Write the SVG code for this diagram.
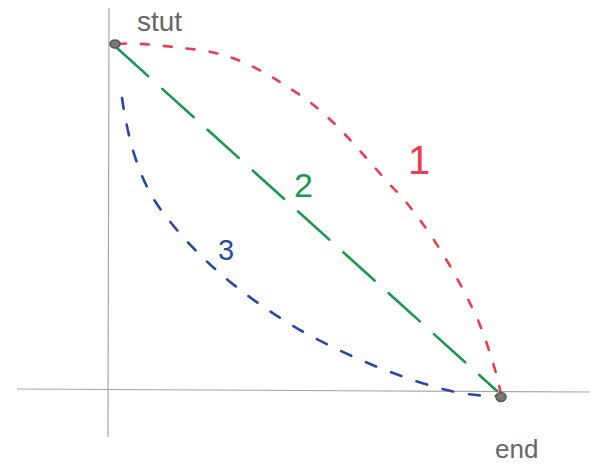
<svg xmlns="http://www.w3.org/2000/svg" width="600" height="466" viewBox="0 0 600 466">
<style>
.axis{stroke:#a8a8a8;stroke-width:1.2;fill:none}
.c{fill:none;stroke-linecap:round;stroke-width:2.6}
.red{stroke:#ee3b50;stroke-dasharray:8 15}
.green{stroke:#179a50;stroke-dasharray:42 19}
.blue{stroke:#2a48a6;stroke-dasharray:11 16}
.pt{fill:#777;stroke:#555;stroke-width:1.5}
.lbl{font-family:"Liberation Sans","DejaVu Sans",sans-serif}
</style>
<rect width="600" height="466" fill="#fff"/>
<g id="axes">
<line class="axis" x1="109" y1="8" x2="108" y2="437"/>
<line class="axis" x1="17" y1="389" x2="590" y2="392"/>
</g>
<g id="connectors">
<path id="path1" class="c red" d="M118,44 C135,42 165,46 200,50 C240,56 265,72 300,95 C340,122 370,165 400,195 C435,235 462,285 478,320 C490,350 498,378 501,395"/>
<path id="path2" class="c green" d="M117,48 L497,391"/>
<path id="path3" class="c blue" d="M122,98 C128,140 140,185 165,215 C195,255 240,295 300,330 C350,358 410,382 455,392 C470,395 485,396 497,396"/>
</g>
<g id="start">
<ellipse class="pt" cx="115" cy="44" rx="5" ry="4"/>
<text class="lbl" x="137" y="31" font-size="28" fill="#666">stut</text>
</g>
<g id="end">
<ellipse class="pt" cx="501" cy="397" rx="5" ry="4.5"/>
<text class="lbl" x="495" y="458" font-size="26" fill="#666">end</text>
</g>
<g id="label1"><text class="lbl" x="408" y="174" font-size="40" fill="#ee3b50">1</text></g>
<g id="label2"><text class="lbl" x="294" y="197" font-size="34" fill="#179a50">2</text></g>
<g id="label3"><text class="lbl" x="218" y="260" font-size="29" fill="#2a48a6">3</text></g>
</svg>
